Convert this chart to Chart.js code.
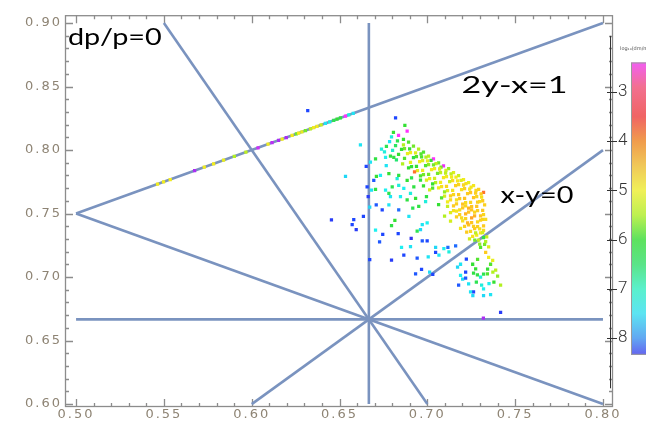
<!DOCTYPE html>
<html>
<head>
<meta charset="utf-8">
<script src="https://cdn.jsdelivr.net/npm/chart.js@4.4.1/dist/chart.umd.min.js"></script>
<style>
  html, body { margin: 0; padding: 0; background: #fff; }
  canvas { display: block; }
</style>
</head>
<body>
<canvas id="chart" width="646" height="428"></canvas>
<script>
// ---- axes ----
const xTicks = [0.50, 0.55, 0.60, 0.65, 0.70, 0.75, 0.80];
const yTicks = [0.60, 0.65, 0.70, 0.75, 0.80, 0.85, 0.90];
const xMinorTicks = [0.51,0.52,0.53,0.54,0.56,0.57,0.58,0.59,0.61,0.62,0.63,0.64,
                     0.66,0.67,0.68,0.69,0.71,0.72,0.73,0.74,0.76,0.77,0.78,0.79];
const yMinorTicks = [0.61,0.62,0.63,0.64,0.66,0.67,0.68,0.69,0.71,0.72,0.73,0.74,
                     0.76,0.77,0.78,0.79,0.81,0.82,0.83,0.84,0.86,0.87,0.88,0.89];
const colorTicks = [3, 4, 5, 6, 7, 8];

// ---- guide lines through (2/3, 2/3) ----
const guideStartX = [0.50, 0.6667, 0.50, 0.50, 0.55, 0.60];
const guideStartY = [0.6667, 0.60, 0.75, 0.75, 0.90, 0.60];
const guideEndX   = [0.80, 0.6667, 0.80, 0.80, 0.70, 0.80];
const guideEndY   = [0.6667, 0.90, 0.90, 0.60, 0.60, 0.80];
const guideLabels = ['dp/p=0', '2y-x=1', 'x-y=0'];
const guideLabelX = [0.4954, 0.7195, 0.7417];
const guideLabelY = [0.8829, 0.8450, 0.7581];
const guideLabelStretch = [1.2, 1.42, 1.2];

// ---- points lying on 2y-x=1 ----
const ridgeX = [0.5464,0.5498,0.5536,0.5675,0.5730,0.5783,0.5840,0.5901,0.5967,0.6036,0.6093,0.6116,
                0.6153,0.6173,0.6197,0.6230,0.6254,0.6267,0.6286,0.6306,0.6334,0.6353,0.6372,0.6395,
                0.6420,0.6444,0.6467,0.6486,0.6505,0.6534,0.6553,0.6578];
const ridgeY = [0.7732,0.7749,0.7768,0.7838,0.7865,0.7892,0.7920,0.7951,0.7984,0.8018,0.8047,0.8058,
                0.8077,0.8087,0.8099,0.8115,0.8127,0.8134,0.8143,0.8153,0.8167,0.8177,0.8186,0.8198,
                0.8210,0.8222,0.8234,0.8243,0.8253,0.8267,0.8277,0.8289];
const ridgeV = [5.0,5.0,5.0,2.3,5.0,5.0,5.1,5.6,5.5,2.5,5.0,2.4,
                2.3,5.0,2.3,5.0,5.8,5.0,5.1,5.8,5.5,5.0,5.0,5.4,
                7.2,7.0,6.2,6.0,6.1,2.8,7.0,7.2];

// ---- main cloud ----
const cloudX = [
  // upper edge and the rows beneath it
  0.6807,0.6836,0.6864,0.6893,0.6921,0.6950,0.6978,0.7007,0.7035,0.7064,0.7092,0.7121,0.7149,0.7178,0.7206,0.7235,0.7263,0.7292,0.7320,
  0.6964,0.6992,0.7021,0.7049,0.7078,0.7106,0.7135,0.7163,0.7192,0.7220,0.7249,0.7277,0.7306,
  0.6796,0.6830,0.6864,0.6899,0.6933,0.6967,0.7001,0.7035,0.7070,0.7104,0.7138,0.7172,0.7206,0.7241,0.7275,0.7309,
  0.6870,0.6904,0.6938,0.6973,0.7007,0.7041,0.7075,0.7109,0.7144,0.7178,0.7212,0.7246,0.7281,0.7315,
  0.6785,0.6819,0.6853,0.6887,0.6921,0.6956,0.6990,0.7024,0.7058,0.7092,0.7127,0.7161,0.7195,0.7229,0.7263,0.7298,0.7326,
  0.6767,0.6802,0.6836,0.6870,0.6904,0.6938,0.6973,0.7007,0.7041,0.7075,0.7109,0.7144,0.7178,0.7212,0.7246,0.7281,0.7315,
  0.6910,0.6944,0.6978,0.7013,0.7047,0.7081,0.7115,0.7149,0.7184,0.7218,0.7252,0.7286,0.7320,
  0.6756,0.6790,0.6824,0.6859,0.6893,0.6927,0.6961,0.6995,0.7030,0.7064,0.7098,0.7132,0.7166,0.7201,0.7235,0.7269,0.7303,0.7332,
  0.6961,0.7030,0.7098,0.7132,0.7166,0.7201,0.7235,0.7269,0.7303,
  0.6910,0.6978,0.7013,0.7081,0.7115,0.7149,0.7184,0.7218,0.7252,0.7286,0.7320,
  0.7115,0.7149,0.7184,0.7218,0.7252,0.7286,0.7320,
  0.6995,0.7064,0.7132,0.7166,0.7201,0.7235,0.7269,0.7303,0.7338,
  0.7189,0.7224,0.7258,0.7292,0.7326,0.7349,
  // dense right block
  0.7218,0.7252,0.7286,0.7315,0.7195,0.7229,0.7263,0.7298,0.7166,0.7132,0.7098,0.7270,0.7240,
  0.7281,0.7315,0.7246,0.7212,0.7332,0.7298,
  // lower right tail
  0.7320,0.7275,0.7332,0.7349,0.7360,0.7389,0.7400,0.7417,0.7343,0.7320,0.7303,0.7263,0.7258,0.7286,
  0.7235,0.7218,0.7178,0.7201,0.7263,0.7320,0.7360,0.7320,0.7189,0.7172,0.7417,0.7319,0.7303,0.7372,
  0.7279,0.7309,0.7351,0.7379,0.7285,0.7342,0.7373,0.7222,0.7218,0.7246,0.7259,
  // bottom middle
  0.6672,0.6796,0.6866,0.6942,0.7005,0.7047,0.7047,0.7094,0.7123,0.7117,0.7161,0.7066,0.6853,0.6904,
  0.6967,0.6933,0.7013,0.7031,0.7275,0.7189,
  // interior
  0.6657,0.6663,0.6672,0.6636,0.6709,0.6743,0.6781,0.6705,0.6746,0.6728,0.6834,0.6796,0.6815,0.6837,
  0.6895,0.6917,0.6951,0.6990,0.6971,0.6999,0.6961,0.6942,0.6971,0.6999,0.6908,0.6762,0.6800,0.6837,
  0.6790,0.6847,0.6885,0.6904,0.6933,0.6705,0.6781,0.6710,0.6682,0.6695,0.6828,0.6866,0.6885,0.6923,
  // upper left of the cloud
  0.6819,0.6872,0.6885,0.6652,0.6676,0.6705,0.6739,0.6762,0.6766,0.6809,0.6733,0.6781,0.6837,
  // scattered
  0.6319,0.6619,0.6534,0.6454,0.6572,0.6581,0.6595
];
const cloudY = [
  0.8140,0.8116,0.8085,0.8062,0.8031,0.8008,0.7984,0.7953,0.7930,0.7899,0.7876,0.7853,0.7822,0.7798,0.7767,0.7744,0.7721,0.7690,0.7667,
  0.7971,0.7945,0.7919,0.7893,0.7866,0.7840,0.7813,0.7787,0.7761,0.7735,0.7708,0.7682,0.7655,
  0.8104,0.8072,0.8040,0.8009,0.7977,0.7946,0.7914,0.7883,0.7851,0.7819,0.7788,0.7757,0.7725,0.7693,0.7662,0.7630,
  0.8012,0.7980,0.7949,0.7917,0.7885,0.7854,0.7823,0.7791,0.7759,0.7728,0.7696,0.7665,0.7633,0.7601,
  0.8067,0.8036,0.8005,0.7973,0.7941,0.7910,0.7878,0.7847,0.7816,0.7784,0.7752,0.7720,0.7689,0.7657,0.7626,0.7595,0.7568,
  0.8029,0.7998,0.7966,0.7934,0.7903,0.7871,0.7840,0.7808,0.7777,0.7745,0.7714,0.7682,0.7650,0.7619,0.7588,0.7556,0.7525,
  0.7870,0.7839,0.7807,0.7775,0.7744,0.7712,0.7681,0.7649,0.7617,0.7586,0.7554,0.7523,0.7492,
  0.7985,0.7953,0.7922,0.7891,0.7859,0.7828,0.7796,0.7764,0.7733,0.7702,0.7670,0.7639,0.7607,0.7575,0.7543,0.7512,0.7481,0.7455,
  0.7764,0.7701,0.7638,0.7607,0.7576,0.7544,0.7512,0.7481,0.7449,
  0.7781,0.7719,0.7687,0.7624,0.7592,0.7561,0.7529,0.7498,0.7466,0.7435,0.7403,
  0.7556,0.7524,0.7492,0.7461,0.7429,0.7398,0.7367,
  0.7633,0.7570,0.7507,0.7475,0.7443,0.7412,0.7381,0.7349,0.7317,
  0.7384,0.7353,0.7321,0.7290,0.7258,0.7237,
  0.7560,0.7530,0.7590,0.7455,0.7466,0.7426,0.7400,0.7380,0.7520,0.7440,0.7480,0.7290,0.7300,
  0.7330,0.7350,0.7360,0.7400,0.7280,0.7260,
  0.7310,0.7349,0.7194,0.7155,0.7101,0.7054,0.7008,0.6936,0.7062,0.7023,0.7000,0.7031,0.7101,0.7140,
  0.6946,0.7039,0.6936,0.6984,0.6884,0.6853,0.6861,0.6907,0.7101,0.7078,0.6723,0.6677,0.7233,0.7132,
  0.6961,0.6936,0.6948,0.6961,0.7018,0.7026,0.7039,0.7142,0.6992,0.6884,0.6853,
  0.7137,0.7134,0.7173,0.7150,0.7160,0.7194,0.7233,0.7225,0.7199,0.7233,0.7246,0.7173,0.7233,0.7240,
  0.7060,0.7026,0.7039,0.7021,0.7064,0.7013,
  0.7711,0.7633,0.7550,0.7478,0.7568,0.7529,0.7568,0.7370,0.7336,0.7277,0.7343,0.7405,0.7447,0.7529,
  0.7478,0.7543,0.7556,0.7595,0.7413,0.7426,0.7374,0.7362,0.7285,0.7285,0.7305,0.7685,0.7711,0.7723,
  0.7633,0.7633,0.7607,0.7659,0.7620,0.7690,0.7659,0.7793,0.7685,0.7762,0.7775,0.7698,0.7762,0.7711,
  0.8254,0.8194,0.8150,0.7871,0.7905,0.7930,0.8008,0.7943,0.7878,0.7943,0.7801,0.7814,0.7801,
  0.8310,0.8041,0.7793,0.7450,0.7413,0.7452,0.7374
];
const cloudV = [
  6.0,2.8,6.0,5.9,5.8,5.6,5.9,5.5,2.8,5.8,2.7,5.7,5.2,5.4,5.0,5.1,4.9,4.5,3.8,
  5.9,5.6,6.0,5.4,5.8,5.3,5.5,5.0,5.2,4.8,4.9,4.6,4.4,
  7.0,6.2,5.6,6.0,5.2,5.9,5.1,5.8,5.2,5.5,5.0,4.9,4.6,4.9,4.5,4.8,
  5.8,5.0,5.9,5.2,5.7,4.9,5.5,5.0,4.7,4.6,4.5,4.3,4.6,4.4,
  7.2,6.3,6.0,5.1,6.1,5.0,5.9,5.0,5.8,4.9,5.4,4.5,4.8,4.4,4.3,4.7,4.5,
  6.2,6.9,6.0,5.9,5.1,6.0,5.0,5.8,5.3,5.0,4.6,4.9,4.4,4.3,4.6,4.3,4.4,
  6.0,5.1,5.8,5.0,5.6,4.8,5.2,4.6,4.4,4.7,4.3,4.5,4.6,
  7.0,6.1,6.4,5.6,6.0,3.8,5.9,5.2,6.0,5.0,5.7,4.5,4.8,4.3,4.2,4.6,4.3,4.7,
  6.1,5.9,5.3,4.7,4.5,4.4,4.3,4.2,4.5,
  6.2,6.0,5.3,5.9,5.0,4.4,4.7,4.2,4.1,4.6,4.4,
  5.4,4.8,4.5,4.6,4.3,4.5,4.7,
  6.1,6.0,5.2,4.5,4.8,4.3,4.4,4.9,5.4,
  4.9,4.4,4.8,5.5,5.8,5.2,
  4.6,4.3,4.5,4.6,4.7,4.2,4.5,4.8,4.9,5.3,5.6,5.8,5.3,
  5.0,5.3,4.6,4.5,5.6,5.7,
  6.1,5.5,4.4,5.0,5.9,5.5,5.7,5.6,6.0,6.2,7.0,6.1,6.0,5.9,
  7.2,8.2,8.1,7.3,8.2,7.3,7.2,7.1,7.2,7.3,8.3,2.3,5.9,5.1,
  6.2,7.0,7.1,6.0,6.1,5.9,5.6,8.2,8.1,7.2,7.3,
  8.2,8.3,8.2,8.1,7.2,8.2,7.3,7.1,7.0,8.0,8.0,7.2,7.1,7.2,
  8.2,8.1,7.3,8.2,6.0,7.1,
  8.2,8.3,7.3,8.2,8.1,8.2,7.2,7.1,8.2,8.1,8.2,6.1,6.0,8.0,
  7.2,6.2,6.1,7.0,7.2,7.1,7.3,6.2,8.1,8.2,8.4,7.1,6.2,7.0,
  7.2,7.1,6.1,7.0,6.0,6.1,6.2,6.0,7.2,8.1,7.0,7.1,6.0,6.1,
  8.2,6.0,2.8,8.2,7.2,6.1,7.0,7.1,7.2,6.1,7.1,6.0,6.1,
  8.2,7.2,7.3,8.3,8.2,8.2,8.3
];

// ---- colour scale ----
const cmapValues = [2.2, 2.8, 3.6, 4.3, 5.0, 5.6, 6.0, 6.6, 7.1, 7.6, 8.2, 8.6];
const cmapColors = ['#9a2cf0','#ff30ff','#ff5030','#ffc420','#f2ec1c','#b2f020',
                    '#34e034','#1ee88e','#1ef0f0','#22b4ff','#1e46ff','#4a20e0'];
const barValues = [2.4, 2.9, 3.5, 4.0, 4.5, 5.0, 5.5, 6.0, 6.5, 7.0, 7.5, 8.0, 8.34];
const barColors = ['#f25ef2','#f27090','#f06464','#f09c4c','#f0c858','#f0f058','#bef050',
                   '#5ee25e','#5ae488','#5af0cc','#5ce4f2','#62a8f2','#6464f0'];
const barAxisMin = 1.86, barAxisMax = 9.02;
const barTitle = 'log\u2081\u2080(dm/m)';

function hexToRgb(h) {
  const n = parseInt(h.slice(1), 16);
  return [(n >> 16) & 255, (n >> 8) & 255, n & 255];
}
function colorFor(v) {
  const vs = cmapValues, cs = cmapColors;
  if (v <= vs[0]) return cs[0];
  if (v >= vs[vs.length - 1]) return cs[cs.length - 1];
  let i = 0;
  while (v > vs[i + 1]) i++;
  const t = (v - vs[i]) / (vs[i + 1] - vs[i]);
  const a = hexToRgb(cs[i]), b = hexToRgb(cs[i + 1]);
  const c = a.map((ch, k) => Math.round(ch + (b[k] - ch) * t));
  return `rgb(${c[0]},${c[1]},${c[2]})`;
}

// ---- plugins: frame with inward ticks, line labels, colour bar ----
const frameTicks = {
  id: 'frameTicks',
  beforeDraw(chart) {
    chart.ctx.letterSpacing = '2px';
  },
  beforeDatasetsDraw(chart) {
    const { ctx, chartArea: a, scales: { x, y } } = chart;
    ctx.save();
    ctx.strokeStyle = '#8c8c8c';
    ctx.lineWidth = 1.3;
    ctx.strokeRect(a.left + 0.5, a.top + 0.5, a.right - a.left - 1, a.bottom - a.top - 1);
    ctx.beginPath();
    const xt = (vals, len) => vals.forEach(v => {
      const p = Math.round(x.getPixelForValue(v)) + 0.5;
      ctx.moveTo(p, a.bottom); ctx.lineTo(p, a.bottom - len);
      ctx.moveTo(p, a.top); ctx.lineTo(p, a.top + len);
    });
    const yt = (vals, len) => vals.forEach(v => {
      const p = Math.round(y.getPixelForValue(v)) + 0.5;
      ctx.moveTo(a.left, p); ctx.lineTo(a.left + len, p);
      ctx.moveTo(a.right, p); ctx.lineTo(a.right - len, p);
    });
    xt(xTicks, 8); xt(xMinorTicks, 4);
    yt(yTicks, 8); yt(yMinorTicks, 4);
    ctx.stroke();
    ctx.restore();
  },
  afterDatasetsDraw(chart) {
    const { ctx, scales: { x, y } } = chart;
    ctx.save();
    ctx.letterSpacing = '0px';
    ctx.fillStyle = '#000';
    ctx.font = '24px Lato';
    ctx.textBaseline = 'alphabetic';
    guideLabels.forEach((t, i) => {
      ctx.save();
      ctx.translate(x.getPixelForValue(guideLabelX[i]), y.getPixelForValue(guideLabelY[i]));
      ctx.scale(guideLabelStretch[i], 1);
      ctx.fillText(t, 0, 0);
      ctx.restore();
    });
    ctx.restore();
  },
  afterDraw(chart) {
    const { ctx, chartArea: a, scales: { cb } } = chart;
    ctx.save();
    ctx.letterSpacing = '0px';
    const top = cb.getPixelForValue(barValues[0]);
    const bot = cb.getPixelForValue(barValues[barValues.length - 1]);
    const g = ctx.createLinearGradient(0, top, 0, bot);
    const span = barValues[barValues.length - 1] - barValues[0];
    barValues.forEach((v, i) => g.addColorStop((v - barValues[0]) / span, barColors[i]));
    ctx.fillStyle = g;
    ctx.fillRect(a.right + 18, top, 20, bot - top);
    ctx.strokeStyle = '#9a9a9a';
    ctx.lineWidth = 1;
    ctx.strokeRect(a.right + 18.5, top + 0.5, 20, bot - top - 1);
    // colour bar axis
    ctx.strokeStyle = '#333';
    ctx.beginPath();
    const lx = a.right - 2.5;
    ctx.moveTo(lx, cb.getPixelForValue(barAxisMin));
    ctx.lineTo(lx, cb.getPixelForValue(barAxisMax));
    colorTicks.forEach(v => {
      const p = Math.round(cb.getPixelForValue(v)) + 0.5;
      ctx.moveTo(a.right - 6, p); ctx.lineTo(a.right + 4, p);
    });
    ctx.stroke();
    ctx.fillStyle = '#555';
    ctx.font = '5px "DejaVu Sans"';
    ctx.textBaseline = 'middle';
    ctx.fillText(barTitle, a.right + 7, top - 14);
    ctx.restore();
  }
};

// ---- datasets ----
const datasets = [
  {
    label: 'cloud',
    data: cloudX.map((v, i) => ({ x: v, y: cloudY[i] })),
    backgroundColor: cloudV.map(colorFor),
    pointStyle: 'rect', pointRadius: 2.3, pointBorderWidth: 0, borderWidth: 0,
    order: 0
  },
  {
    label: 'ridge',
    data: ridgeX.map((v, i) => ({ x: v, y: ridgeY[i] })),
    backgroundColor: ridgeV.map(colorFor),
    pointStyle: 'rect', pointRadius: 2.3, pointBorderWidth: 0, borderWidth: 0,
    order: 0
  }
];
guideStartX.forEach((x0, i) => {
  datasets.push({
    label: 'guide' + i,
    data: [{ x: x0, y: guideStartY[i] }, { x: guideEndX[i], y: guideEndY[i] }],
    showLine: true, pointRadius: 0,
    borderColor: '#7a93bf', borderWidth: 2.6,
    order: 1
  });
});

const tickFont = { family: '"DejaVu Sans"', size: 13 };
const tickColor = '#8e8474';

new Chart(document.getElementById('chart'), {
  type: 'scatter',
  data: { datasets },
  options: {
    responsive: false,
    animation: false,
    devicePixelRatio: 1,
    layout: { padding: { top: 9, left: 0, right: 0, bottom: 0 } },
    plugins: { legend: { display: false }, tooltip: { enabled: false } },
    scales: {
      x: {
        type: 'linear', position: 'bottom', min: 0.4937, max: 0.8057,
        grid: { display: false, drawTicks: false }, border: { display: false },
        afterBuildTicks: s => { s.ticks = xTicks.map(v => ({ value: v })); },
        afterFit: s => { s.height = 21; },
        ticks: { autoSkip: false, maxRotation: 0, padding: 0, font: tickFont, color: tickColor,
                 callback: v => v.toFixed(2) }
      },
      y: {
        type: 'linear', position: 'left', min: 0.5977, max: 0.9062,
        grid: { display: false, drawTicks: false }, border: { display: false },
        afterBuildTicks: s => { s.ticks = yTicks.map(v => ({ value: v })); },
        afterFit: s => { s.width = 65; },
        ticks: { autoSkip: false, padding: 3, font: tickFont, color: tickColor,
                 callback: v => v.toFixed(2) }
      },
      cb: {
        type: 'linear', position: 'right', min: 1.44, max: 9.40, reverse: true,
        grid: { display: false, drawTicks: false }, border: { display: false },
        afterBuildTicks: s => { s.ticks = colorTicks.map(v => ({ value: v })); },
        afterFit: s => { s.width = 33; },
        ticks: { autoSkip: false, padding: 5, font: { family: 'Roboto', size: 17, weight: '300' },
                 color: '#333', callback: v => String(v) }
      }
    }
  },
  plugins: [frameTicks]
});
</script>
</body>
</html>
